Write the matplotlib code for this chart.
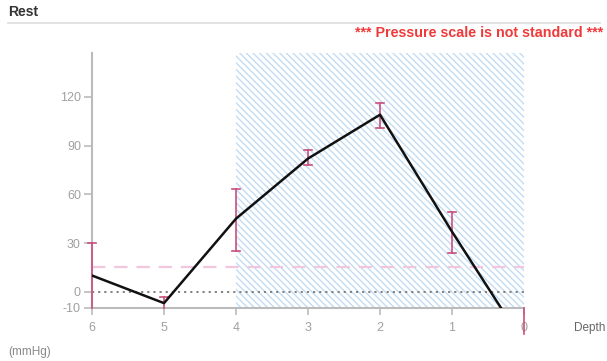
import matplotlib
matplotlib.use("Agg")
import matplotlib.pyplot as plt
from matplotlib.patches import Rectangle
from matplotlib.lines import Line2D

plt.rcParams['font.family'] = ['Liberation Sans', 'DejaVu Sans']
plt.rcParams['axes.unicode_minus'] = False
plt.rcParams['hatch.linewidth'] = 1.0

# Data
depth = [6, 5, 4, 3, 2, 1, 0]
pressure = [10, -7, 45, 82, 109, 37, -32]
err_low = [-10, -10, 25, 78, 101, 24, -26]
err_high = [30, -3, 63, 87, 116, 49, -10]
y_ticks = [-10, 0, 30, 60, 90, 120]
x_ticks = [6, 5, 4, 3, 2, 1, 0]
ref_level = 15
zone_start, zone_end = 4, 0
y_min, y_max = -10, 147

fig = plt.figure(figsize=(6.07, 3.61), dpi=100)
ax = fig.add_axes([92/607, 1-308/361, (524-92)/607, (308-53)/361])
ax.set_xlim(6, 0)
ax.set_ylim(y_min, y_max)

# hatched zone
ax.add_patch(Rectangle((zone_end, y_min), zone_start - zone_end, y_max - y_min,
                       facecolor='none', edgecolor='#c2dcf4', linewidth=0,
                       hatch='\\\\\\\\\\', zorder=0))

# reference lines
ax.axhline(ref_level, color='#f2c6dc', lw=1.6, dashes=(6, 4), zorder=1)
ax.axhline(0, color='#777777', lw=1.3, ls=(0, (1.2, 2.2)), zorder=1)

# error bars
err_color = '#c8507e'
for x, lo, hi in zip(depth, err_low, err_high):
    ax.plot([x, x], [lo, hi], color=err_color, lw=1.2, clip_on=False, zorder=4)
    if x == 6:
        ax.plot([x - 0.06, x + 0.06], [hi, hi], color=err_color, lw=1.2, clip_on=False, zorder=4)
    elif x == 0:
        pass
    else:
        for v in (lo, hi):
            if v > y_min:
                ax.plot([x - 0.06, x + 0.06], [v, v], color=err_color, lw=1.2, zorder=4)

# main line
ax.plot(depth, pressure, color='#111111', lw=1.8, zorder=5)

# axes styling
for s in ['top', 'right']:
    ax.spines[s].set_visible(False)
ax.spines['left'].set_color('#bbbbbb')
ax.spines['bottom'].set_color('#bbbbbb')
ax.spines['left'].set_linewidth(1.5)
ax.spines['bottom'].set_linewidth(1.5)
ax.set_yticks(y_ticks)
ax.set_xticks(x_ticks)
ax.set_xticklabels([str(v) for v in x_ticks])
ax.tick_params(axis='both', colors='#bbbbbb', labelcolor='#a0a0a0', labelsize=9,
               length=6, width=1.2)
ax.tick_params(axis='x', length=5, pad=5)
ax.tick_params(axis='y', pad=2)

# texts
fig.text(8/607, 1-12/361, 'Rest', fontsize=10, fontweight='bold', color='#333333',
         va='center', ha='left')
fig.add_artist(Line2D([8/607, 600/607], [1-23/361, 1-23/361], color='#dddddd', lw=1.2))
fig.text(603/607, 1-33/361, '*** Pressure scale is not standard ***', fontsize=10.3,
         fontweight='bold', color='#f03a3a', va='center', ha='right')
fig.text(574/607, 1-328/361, 'Depth', fontsize=8.5, color='#666666', va='center', ha='left')
fig.text(8/607, 1-352/361, '(mmHg)', fontsize=8.5, color='#888888', va='center', ha='left')

fig.savefig('out.png', dpi=100)
